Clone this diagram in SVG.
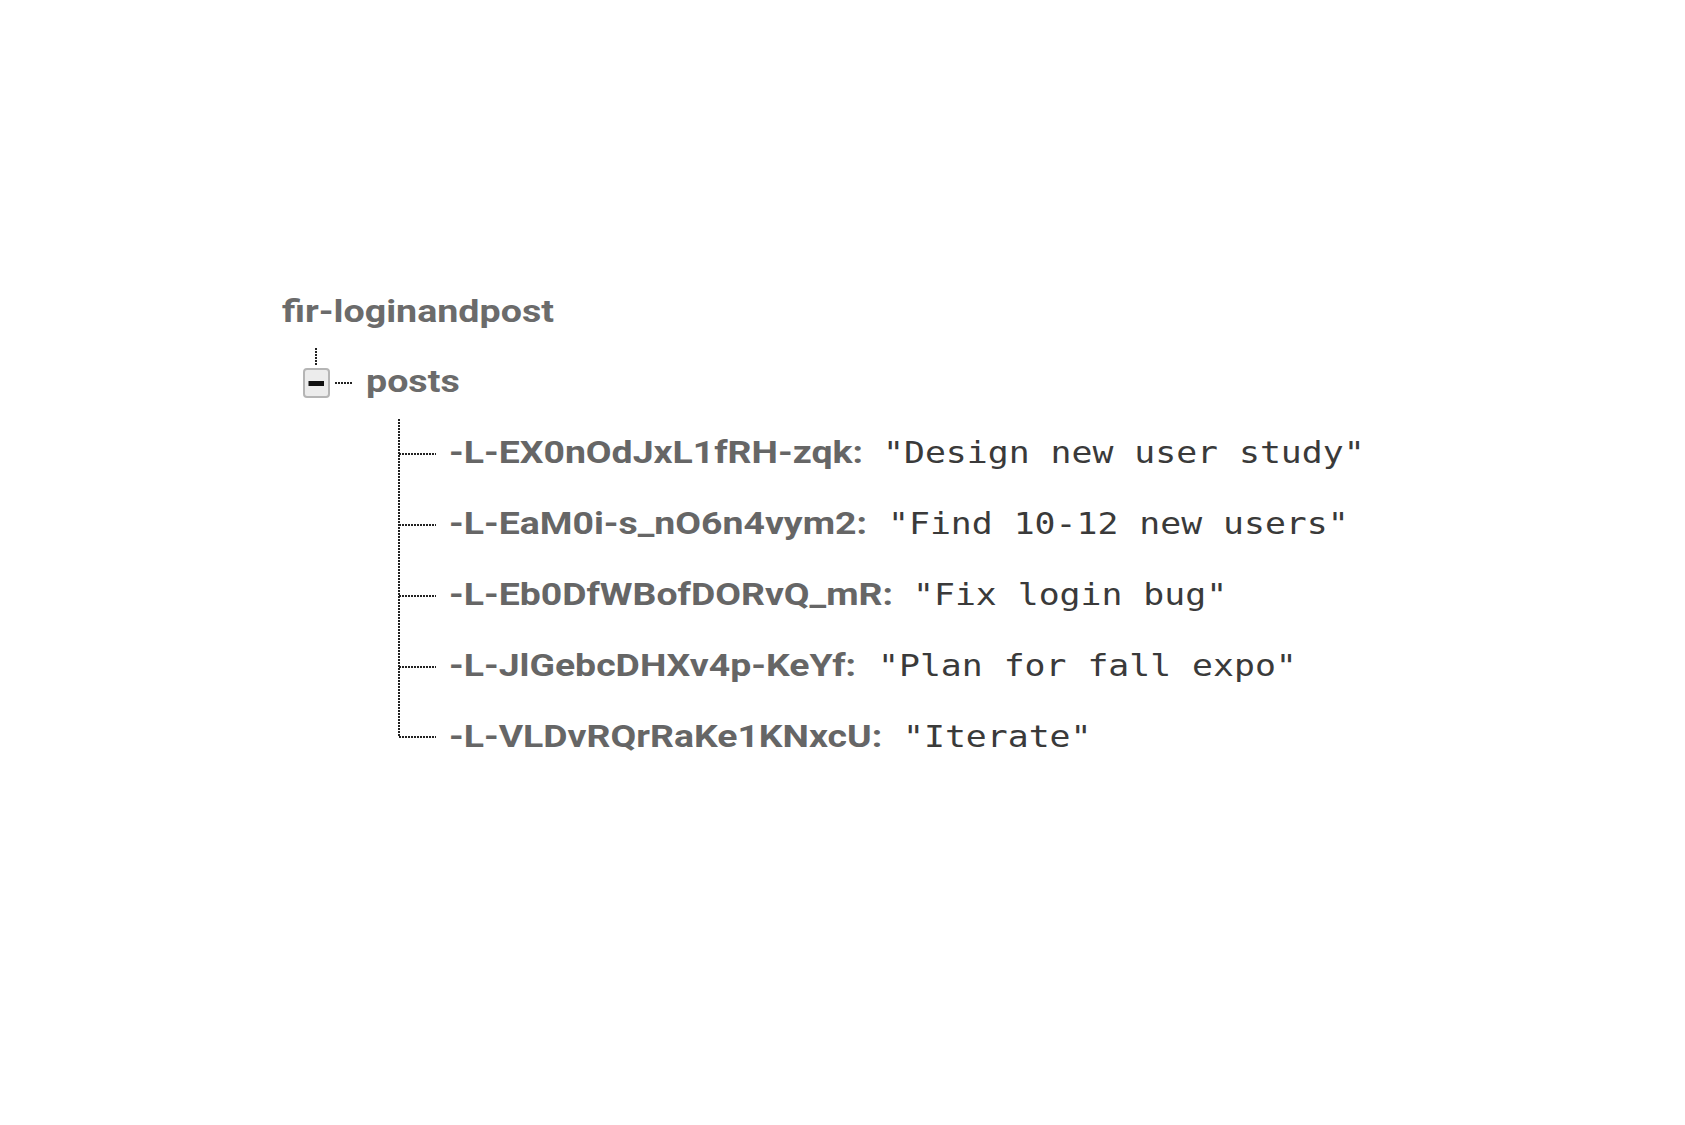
<svg xmlns="http://www.w3.org/2000/svg" width="1685" height="1125" viewBox="0 0 1685 1125">
<style>
.title{font-family:Roboto,"Liberation Sans",sans-serif;font-weight:700;font-size:32px;fill:#6b6b6b}
.key{font-family:Roboto,"Liberation Sans",sans-serif;font-weight:700;font-size:30.5px;fill:#666666}
.val{font-family:"DejaVu Sans Mono","Liberation Mono",monospace;font-size:30px;fill:#3a3a3a}
.dot{stroke:#222;stroke-width:2;stroke-dasharray:2 1;fill:none}
</style>
<rect width="1685" height="1125" fill="#ffffff"/>
<g id="connectors">
<line class="dot" x1="316" y1="348" x2="316" y2="366"/>
<line class="dot" x1="335" y1="383" x2="353" y2="383"/>
<line class="dot" x1="399" y1="419" x2="399" y2="737"/>
<line class="dot" x1="399" y1="454" x2="436" y2="454"/>
<line class="dot" x1="399" y1="525" x2="436" y2="525"/>
<line class="dot" x1="399" y1="596" x2="436" y2="596"/>
<line class="dot" x1="399" y1="667" x2="436" y2="667"/>
<line class="dot" x1="399" y1="737" x2="436" y2="737"/>
</g>
<g id="root">
<text class="title" transform="translate(282,322) scale(1.175,1)">fir-loginandpost</text>
</g>
<g id="posts">
<rect x="304" y="369" width="25" height="28" rx="3" fill="#ececec" stroke="#b5b5b5" stroke-width="2"/>
<rect x="308.5" y="381" width="15.5" height="5" fill="#111"/>
<text class="title" transform="translate(366,392) scale(1.175,1)">posts</text>
</g>
<g id="item1">
<text class="key" transform="translate(449,463) scale(1.226,1)">-L-EX0nOdJxL1fRH-zqk:</text>
<text class="val" transform="translate(883,463) scale(1.16,1)">"Design new user study"</text>
</g>
<g id="item2">
<text class="key" transform="translate(449,534) scale(1.226,1)">-L-EaM0i-s_nO6n4vym2:</text>
<text class="val" transform="translate(888,534) scale(1.16,1)">"Find 10-12 new users"</text>
</g>
<g id="item3">
<text class="key" transform="translate(449,605) scale(1.226,1)">-L-Eb0DfWBofDORvQ_mR:</text>
<text class="val" transform="translate(913,605) scale(1.16,1)">"Fix login bug"</text>
</g>
<g id="item4">
<text class="key" transform="translate(449,676) scale(1.226,1)">-L-JlGebcDHXv4p-KeYf:</text>
<text class="val" transform="translate(878,676) scale(1.16,1)">"Plan for fall expo"</text>
</g>
<g id="item5">
<text class="key" transform="translate(449,747) scale(1.226,1)">-L-VLDvRQrRaKe1KNxcU:</text>
<text class="val" transform="translate(903,747) scale(1.16,1)">"Iterate"</text>
</g>
</svg>
